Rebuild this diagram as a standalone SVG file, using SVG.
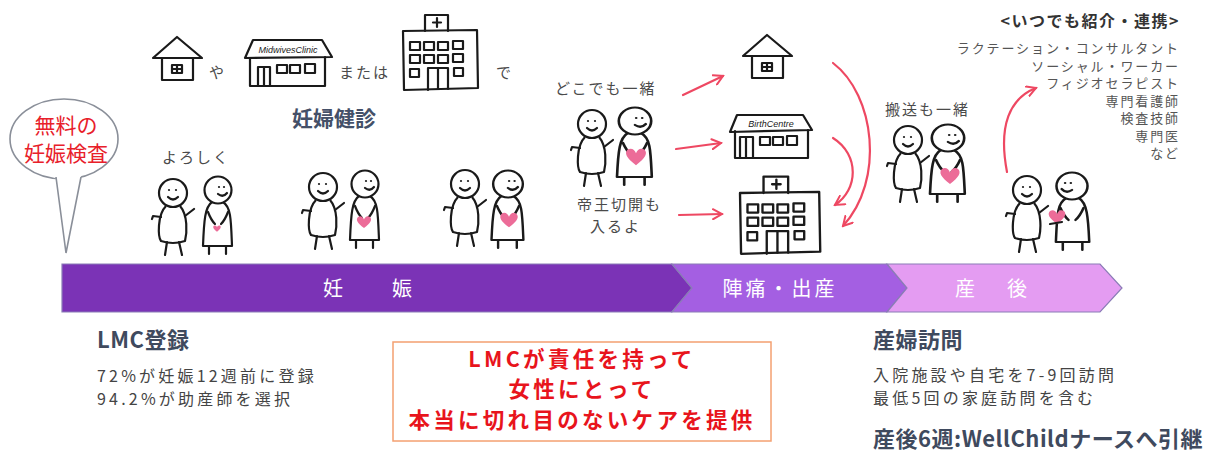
<svg xmlns="http://www.w3.org/2000/svg" width="1210" height="454" viewBox="0 0 1210 454">
<style>
 text{font-family:"Noto Sans CJK JP","Noto Sans",sans-serif}
 .ink{fill:none;stroke:#1a1a1a;stroke-width:2.2;stroke-linecap:round;stroke-linejoin:round}
 .inkf{fill:#fff;stroke:#1a1a1a;stroke-width:2.2;stroke-linejoin:round}
 .eye{fill:#1a1a1a}
 .heart{fill:#EC6C98}
 .red{fill:none;stroke:#EE4862;stroke-width:2.2;stroke-linecap:round}
 .note{font-size:15px;fill:#4a4a4a;letter-spacing:2px}
 .bar{font-size:20px;fill:#fff;text-anchor:middle}
 .head2{font-size:22px;font-weight:700;fill:#3f4a5e;letter-spacing:0.5px}
 .body2{font-size:16px;fill:#444;letter-spacing:3.2px}
 .list{font-size:13px;fill:#555;text-anchor:end;letter-spacing:1.9px}
 .msg{font-size:21.5px;font-weight:700;fill:#E8141C;text-anchor:middle;letter-spacing:3.3px}
 .hand{font-family:"Liberation Sans",sans-serif;font-style:italic;font-size:9px;fill:#1a1a1a;text-anchor:middle}
</style>
<defs>
 <marker id="ah" viewBox="0 0 12 12" refX="10" refY="6" markerWidth="12" markerHeight="12" markerUnits="userSpaceOnUse" orient="auto">
  <path d="M1,1 L10,6 L1,11" fill="none" stroke="#EE4862" stroke-width="2" stroke-linecap="round"/>
 </marker>
 <!-- stick figure: partner -->
 <g id="man">
  <path d="M-7 13 C-16 22 -15 44 -12 48 Q0 52 12 48 C14 40 15 22 7 13" class="inkf"/>
  <circle cx="0" cy="0" r="14" class="inkf"/>
  <circle cx="-4" cy="-3" r="1.1" class="eye"/>
  <circle cx="3" cy="-3" r="1.1" class="eye"/>
  <path d="M-5 4 Q0 9 5 4" class="ink" stroke-width="1.6"/>
  <path d="M-12 24 L-20 23 L-21 26 M12 23 L21 16 M-6 49 L-8 62 M6 49 L9 62" class="ink"/>
 </g>
 <!-- stick figure: woman -->
 <g id="woman">
  <path d="M-6 12 C-13 17 -14 30 -15 56 L14 56 C13 30 13 17 5 12" class="inkf"/>
  <circle cx="0" cy="0" r="13.5" class="inkf"/>
  <circle cx="1" cy="-3" r="1.1" class="eye"/>
  <circle cx="6" cy="-3" r="1.1" class="eye"/>
  <path d="M0 4 Q5 8 9 3" class="ink" stroke-width="1.6"/>
  <path d="M-9 57 L-9 64 M8 57 L8 64 M-10 22 Q-7 30 -3 34 M10 22 Q7 30 3 34" class="ink"/>
 </g>
 <path id="heart" d="M0 6 C-8 0 -10 -4 -7 -7 C-4 -9 -1 -7 0 -4 C1 -7 4 -9 7 -7 C10 -4 8 0 0 6 Z" class="heart"/>
 <!-- house pictogram, apex at origin -->
 <g id="house">
  <path d="M-24 21 L0 0 L25 21 Z" class="ink"/>
  <path d="M-15 21 V43 H16 V21" class="ink"/>
  <rect x="-5" y="28" width="10" height="8" class="ink" stroke-width="1.8"/>
  <path d="M-5 32 H5 M0 28 V36" class="ink" stroke-width="1.4"/>
 </g>
 <!-- hospital pictogram -->
 <g id="hospital">
  <path d="M22 0 V-16 H45 V0" class="ink"/>
  <path d="M34 -13 V-4 M30 -8.5 H38" class="ink" stroke-width="1.8"/>
  <path d="M0 0 L74 -1 L75 57 L1 59 Z" class="ink"/>
  <g class="ink" stroke-width="1.8">
   <rect x="7" y="11" width="10" height="8"/><rect x="21" y="11" width="10" height="8"/><rect x="35" y="11" width="10" height="8"/><rect x="50" y="10" width="10" height="8"/>
   <rect x="7" y="24" width="10" height="8"/><rect x="21" y="24" width="10" height="8"/><rect x="35" y="24" width="10" height="8"/><rect x="50" y="23" width="10" height="8"/>
   <rect x="7" y="38" width="9" height="8"/><rect x="51" y="37" width="9" height="8"/>
  </g>
  <path d="M25 59 V37 H45 V58 M35 37 V58" class="ink"/>
 </g>
</defs>

<!-- speech bubble -->
<g id="bubble">
 <ellipse cx="64" cy="139" rx="54" ry="40" fill="#fff" stroke="#8a8f99" stroke-width="1.6"/>
 <path d="M55 172 L66 253 L82 172 Z" fill="#fff"/>
 <path d="M56 177 L66 253 L81 177" fill="none" stroke="#8a8f99" stroke-width="1.6"/>
 <text x="66" y="133" font-size="21" fill="#E8202A" text-anchor="middle">無料の</text>
 <text x="66" y="161" font-size="21" fill="#E8202A" text-anchor="middle">妊娠検査</text>
</g>

<!-- places for check-ups -->
<g id="checkup-places">
 <use href="#house" x="177" y="37"/>
 <text x="209" y="78" class="note">や</text>
 <g id="midwives-clinic">
  <path d="M245 58 L253 40 L322 40 L332 57 Z" class="ink"/>
  <text x="288" y="53" class="hand">MidwivesClinic</text>
  <path d="M250 58 V86 H325 V57" class="ink"/>
  <path d="M258 86 V67 H270 V86 M264 67 V86" class="ink" stroke-width="1.8"/>
  <g class="ink" stroke-width="1.8">
   <rect x="277" y="65" width="10" height="8"/><rect x="290" y="65" width="10" height="8"/><rect x="305" y="64" width="10" height="9"/>
  </g>
 </g>
 <text x="339" y="78" class="note">または</text>
 <use href="#hospital" x="403" y="31"/>
 <text x="496" y="78" class="note">で</text>
 <text x="292" y="126" font-size="21" font-weight="700" fill="#445068">妊婦健診</text>
</g>

<text x="162" y="163" class="note">よろしく</text>

<!-- couples along the pregnancy -->
<g id="couple-1">
 <use href="#man" x="173" y="193"/>
 <use href="#woman" x="218" y="190"/>
 <use href="#heart" transform="translate(217,229) scale(0.45)"/>
</g>
<g id="couple-2">
 <use href="#man" x="323" y="187"/>
 <use href="#woman" x="365" y="184"/>
 <use href="#heart" transform="translate(364,223) scale(0.85)"/>
</g>
<g id="couple-3">
 <use href="#man" x="465" y="184"/>
 <use href="#woman" transform="translate(508,184) scale(1.1,1)"/>
 <use href="#heart" transform="translate(509,221) scale(1.05)"/>
</g>

<!-- birth: anywhere together -->
<text x="555" y="94" class="note">どこでも一緒</text>
<g id="couple-4">
 <use href="#man" x="592" y="124"/>
 <use href="#woman" transform="translate(635,121) scale(1.2,1)"/>
 <use href="#heart" transform="translate(636,158) scale(1.2)"/>
</g>
<text x="577" y="210" class="note">帝王切開も</text>
<text x="590" y="232" class="note">入るよ</text>

<g id="birth-places">
 <use href="#house" x="767" y="35"/>
 <g id="birth-centre">
  <path d="M730 132 L737 115 L803 115 L812 130 Z" class="ink"/>
  <text x="771" y="127" class="hand">BirthCentre</text>
  <path d="M735 131 V158 H808 V130" class="ink"/>
  <path d="M740 158 V137 H753 V158 M746 137 V158" class="ink" stroke-width="1.8"/>
  <g class="ink" stroke-width="1.8">
   <rect x="760" y="137" width="10" height="8"/><rect x="773" y="137" width="10" height="8"/><rect x="787" y="136" width="10" height="9"/>
  </g>
 </g>
 <use href="#hospital" transform="translate(740,193) scale(1.07,1.03)"/>
</g>

<text x="885" y="115" class="note">搬送も一緒</text>
<g id="couple-5">
 <use href="#man" x="908" y="140"/>
 <use href="#woman" transform="translate(948,138) scale(1.2,1)"/>
 <use href="#heart" transform="translate(950,177) scale(1.15)"/>
</g>
<g id="couple-6">
 <use href="#man" x="1027" y="190"/>
 <use href="#woman" transform="translate(1072,186) scale(-1.15,1)"/>
 <use href="#heart" transform="translate(1057,218) scale(1)"/>
 <path d="M1062 222 L1050 224" class="ink"/>
</g>

<!-- referral list -->
<g id="referrals">
 <text x="1180" y="27" font-size="16" font-weight="700" fill="#333" text-anchor="end" letter-spacing="1.5">&lt;いつでも紹介・連携&gt;</text>
 <text x="1180" y="53" class="list">ラクテーション・コンサルタント</text>
 <text x="1180" y="71" class="list">ソーシャル・ワーカー</text>
 <text x="1180" y="88" class="list">フィジオセラピスト</text>
 <text x="1180" y="106" class="list">専門看護師</text>
 <text x="1180" y="123" class="list">検査技師</text>
 <text x="1180" y="141" class="list">専門医</text>
 <text x="1180" y="158" class="list">など</text>
</g>

<!-- connectors -->
<g id="connectors">
 <path d="M683 95 L723 76" class="red" marker-end="url(#ah)"/>
 <path d="M676 149 L721 143" class="red" marker-end="url(#ah)"/>
 <path d="M679 215 L722 214" class="red" marker-end="url(#ah)"/>
 <path d="M833 63 C875 95 885 180 843 226" class="red" marker-end="url(#ah)"/>
 <path d="M833 138 C860 155 858 190 835 205" class="red" marker-end="url(#ah)"/>
 <path d="M1007 172 C998 125 1010 98 1036 88" class="red" marker-end="url(#ah)"/>
</g>

<!-- timeline bar -->
<g id="timeline" stroke="#8a7cb6" stroke-width="1.2">
 <path d="M62 264 L672 264 L692 288 L672 312 L62 312 Z" fill="#7B33B6"/>
 <path d="M672 264 L887 264 L907 288 L887 312 L672 312 L692 288 Z" fill="#A45FE2"/>
 <path d="M887 264 L1100 264 L1122 288 L1100 312 L887 312 L907 288 Z" fill="#E49CF2"/>
</g>
<text x="333" y="296" class="bar">妊</text>
<text x="402" y="296" class="bar">娠</text>
<text x="780" y="296" class="bar" letter-spacing="3">陣痛・出産</text>
<text x="965" y="296" class="bar">産</text>
<text x="1017" y="296" class="bar">後</text>

<!-- notes below -->
<g id="lmc">
 <text x="97" y="348" class="head2">LMC登録</text>
 <text x="97" y="382" class="body2">72%が妊娠12週前に登録</text>
 <text x="97" y="405" class="body2">94.2%が助産師を選択</text>
</g>
<g id="message">
 <rect x="393" y="342" width="378" height="99" fill="#fff" stroke="#F4A070" stroke-width="1.5"/>
 <text x="582" y="367" class="msg">LMCが責任を持って</text>
 <text x="582" y="397" class="msg">女性にとって</text>
 <text x="582" y="428" class="msg">本当に切れ目のないケアを提供</text>
</g>
<g id="postnatal">
 <text x="873" y="348" class="head2">産婦訪問</text>
 <text x="873" y="381" class="body2">入院施設や自宅を7-9回訪問</text>
 <text x="873" y="404" class="body2">最低5回の家庭訪問を含む</text>
 <text x="873" y="447" class="head2">産後6週:WellChildナースへ引継</text>
</g>
</svg>
